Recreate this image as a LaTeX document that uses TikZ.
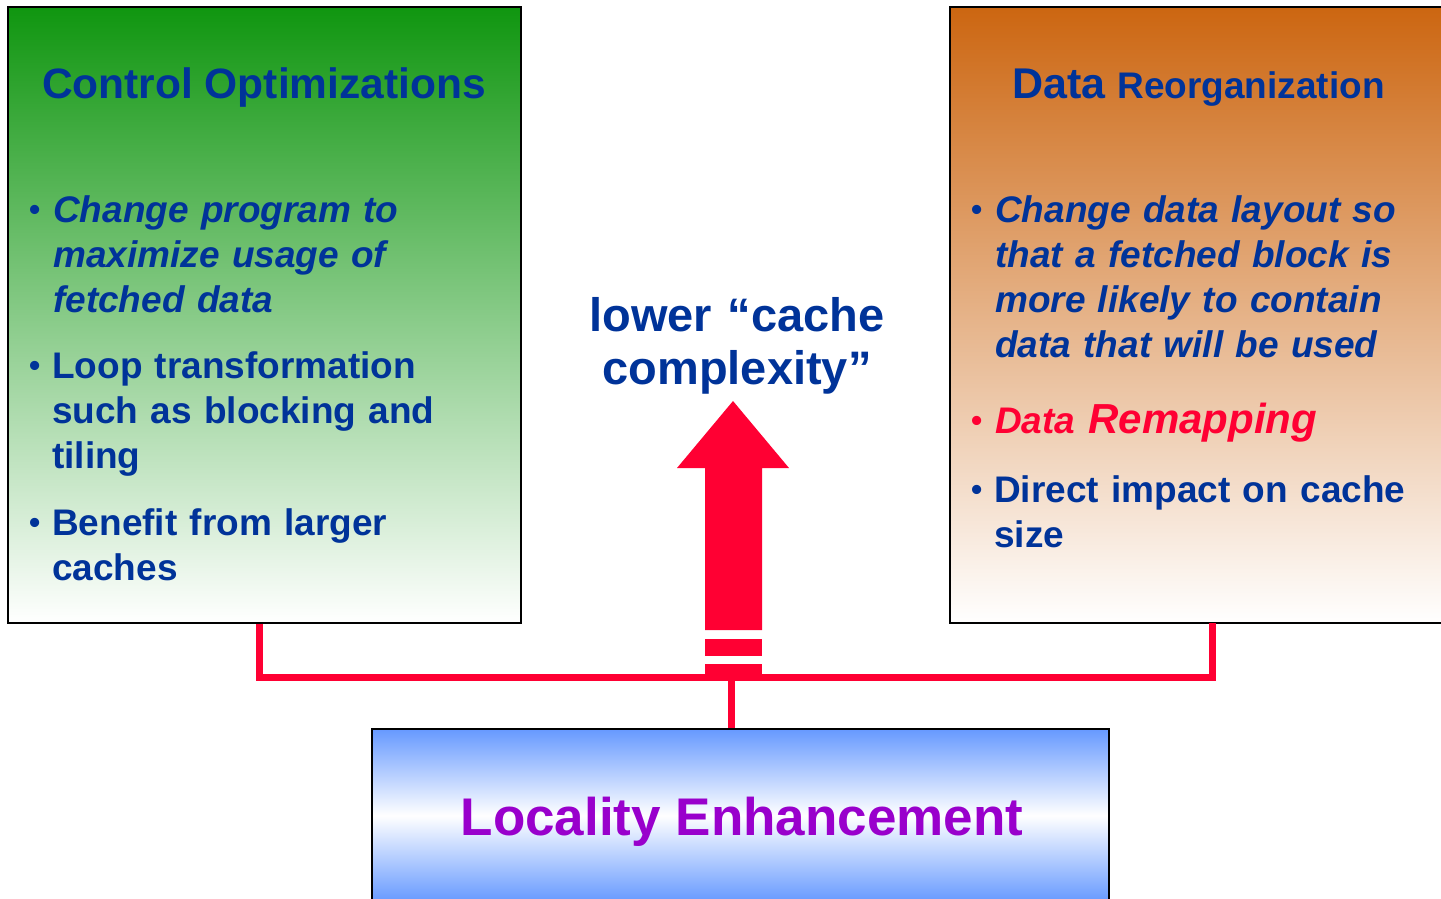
\documentclass[tikz,border=0pt]{standalone}
\usepackage{fontspec}
\setmainfont{Liberation Sans}
\usetikzlibrary{calc}

\definecolor{txtblue}{RGB}{0,51,153}
\definecolor{hotred}{RGB}{255,0,51}
\definecolor{locpurple}{RGB}{153,0,204}
\definecolor{ctrlgreen}{RGB}{16,150,16}
\definecolor{ctrlmid}{RGB}{160,206,160}
\definecolor{dataorange}{RGB}{204,102,17}
\definecolor{datamid}{RGB}{218,166,146}
\definecolor{locblue}{RGB}{102,153,255}

\newcommand\fsz[2]{\fontsize{#1}{#2}\selectfont}

\tikzset{
  panel/.style={draw=black, line width=1.5pt, inner sep=0pt, outer sep=0pt},
  heading/.style={anchor=base, inner sep=0pt, text=txtblue, font=\bfseries},
  bullettext/.style={anchor=base west, inner sep=0pt, text width=440pt, align=left,
    text=txtblue, font=\bfseries\fsz{37}{45}},
  bulletdot/.style={anchor=base west, inner sep=0pt, text=txtblue, font=\bfseries\fsz{32}{45}},
  link/.style={draw=hotred, line width=7pt, line join=miter},
}

\begin{document}
\begin{tikzpicture}[x=1pt, y=-1pt]
\useasboundingbox (0,0) rectangle (1441,898);

% --- the three panels -------------------------------------------------
\node[panel, top color=ctrlgreen, middle color=ctrlmid, bottom color=white,
      minimum width=513pt, minimum height=616pt] (ctrl) at (264.5,315) {};
\node[panel, top color=dataorange, middle color=datamid, bottom color=white,
      minimum width=495pt, minimum height=616pt] (data) at (1197.5,315) {};
\node[panel, top color=locblue, bottom color=locblue, middle color=white,
      minimum width=737pt, minimum height=173pt] (loc) at (740.5,815.5) {};

% --- panel headings ---------------------------------------------------
\node[heading, font=\bfseries\fsz{42.5}{50}] (ctrltitle) at (264,98) {Control Optimizations};
\node[heading, anchor=base west] (datatitle) at (1012,98)
  {{\fsz{43}{50}Data\hspace{12pt}}{\fsz{37}{50}Reorganization}};
\node[heading, text=locpurple, font=\bfseries\fsz{53}{60}] (loctitle) at (742,835)
  {Locality Enhancement};

% --- control optimizations bullets ------------------------------------
\node[bulletdot] (cb1) at (29,220) {•};
\node[bullettext, font=\bfseries\itshape\fsz{37}{45}] (ct1) at (53,222)
  {Change program to\\maximize usage of\\fetched data};
\node[bulletdot] (cb2) at (29,376) {•};
\node[bullettext] (ct2) at (52,378)
  {Loop transformation\\such as blocking and\\tiling};
\node[bulletdot] (cb3) at (29,533) {•};
\node[bullettext] (ct3) at (52,535)
  {Benefit from larger\\caches};

% --- data reorganization bullets --------------------------------------
\node[bulletdot] (db1) at (971,220) {•};
\node[bullettext, font=\bfseries\itshape\fsz{37}{45}] (dt1) at (995,222)
  {Change data layout so\\that a fetched block is\\more likely to contain\\data that will be used};
\node[bulletdot, text=hotred] (db2) at (971,431) {•};
\node[bullettext, text=hotred, font=\bfseries\itshape] (dt2) at (995,433)
  {{\fsz{37}{45}Data\hspace{13pt}}{\fsz{42}{45}Remapping}};
\node[bulletdot] (db3) at (971,500) {•};
\node[bullettext] (dt3) at (994,502)
  {Direct impact on cache\\size};

% --- central label ----------------------------------------------------
\node[heading, text width=420pt, align=center, font=\bfseries\fsz{47}{53}] (gain) at (737,331)
  {lower “cache\\complexity”};

% --- red connectors ---------------------------------------------------
\coordinate (lj) at (259.5,677.5);
\coordinate (rj) at (1212.5,677.5);
\coordinate (mj) at (731,677.5);
\draw[link, shorten <=0.75pt] (ctrl.south -| lj) -- (lj) -- (rj) -- (data.south -| rj);
\draw[link, shorten >=0.75pt] (mj) -- (loc.north -| mj);

% --- upward arrow with broken tail ------------------------------------
\fill[hotred] (733,401) -- (789,468) -- (762,468) -- (762,630)
  -- (705,630) -- (705,468) -- (677,468) -- cycle;
\fill[hotred] (705,639) rectangle (762,656);
\fill[hotred] (705,664) rectangle (762,674);
\end{tikzpicture}
\end{document}
